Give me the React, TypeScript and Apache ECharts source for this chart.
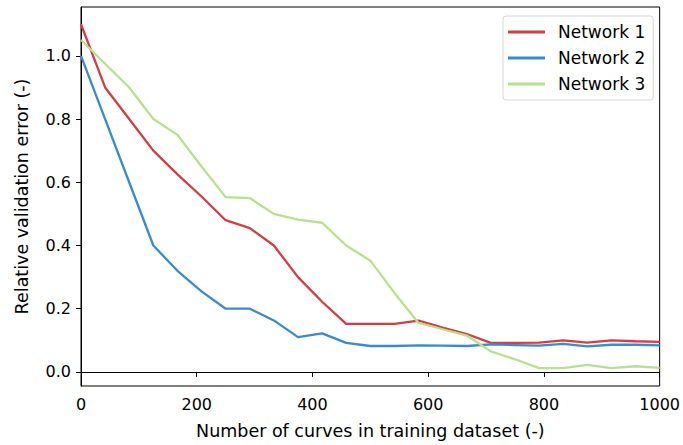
import React, { useEffect, useRef } from "react";
import * as echarts from "echarts";

const xValues = [0, 41.7, 83.3, 125, 166.7, 208.3, 250, 291.7, 333.3, 375, 416.7, 458.3, 500, 541.7, 583.3, 625, 666.7, 708.3, 750, 791.7, 833.3, 875, 916.7, 958.3, 1000];
const network1 = [1.1, 0.9, 0.8, 0.7, 0.625, 0.555, 0.48, 0.455, 0.4, 0.3, 0.222, 0.152, 0.152, 0.152, 0.162, 0.14, 0.12, 0.092, 0.092, 0.093, 0.1, 0.093, 0.1, 0.097, 0.095];
const network2 = [1.0, 0.8, 0.6, 0.4, 0.32, 0.255, 0.2, 0.2, 0.163, 0.11, 0.122, 0.092, 0.082, 0.082, 0.084, 0.083, 0.082, 0.087, 0.085, 0.083, 0.089, 0.081, 0.086, 0.086, 0.084];
const network3 = [1.05, 0.975, 0.9, 0.8, 0.75, 0.65, 0.553, 0.55, 0.5, 0.482, 0.472, 0.4, 0.352, 0.25, 0.155, 0.135, 0.115, 0.065, 0.04, 0.012, 0.012, 0.022, 0.012, 0.018, 0.013];
const seriesNames = ["Network 1", "Network 2", "Network 3"];
const seriesColors = ["#d43d42", "#3b8bcb", "#b7e08f"];
const yTicks = [0, 0.2, 0.4, 0.6, 0.8, 1.0];
const xTicks = [0, 200, 400, 600, 800, 1000];

const FONT = "DejaVu Sans";
const FS = 16;
const FS_TITLE = 17.5;
const FS_LEGEND = 17;

export default function App() {
  const ref = useRef<HTMLDivElement>(null);
  useEffect(() => {
    if (!ref.current) return;
    const chart = echarts.init(ref.current, undefined, { renderer: "svg" });
    const all = [network1, network2, network3];
    chart.setOption({
      animation: false,
      backgroundColor: "#fff",
      textStyle: { fontFamily: FONT },
      grid: {
        left: 81,
        right: 21,
        top: 7,
        bottom: 59,
        show: true,
        borderColor: "#000",
        borderWidth: 1,
        backgroundColor: "transparent",
      },
      legend: {
        left: 503,
        top: 16,
        orient: "vertical",
        data: seriesNames,
        icon: "rect",
        itemWidth: 37,
        itemHeight: 3,
        itemGap: 8,
        padding: [7, 8, 7, 5],
        backgroundColor: "rgba(255,255,255,0.8)",
        borderColor: "#d6d6d6",
        borderWidth: 1,
        borderRadius: 3,
        textStyle: { fontFamily: FONT, fontSize: FS_LEGEND, lineHeight: 18, color: "#000", padding: [0, 0, 0, 8] },
      },
      xAxis: {
        type: "value",
        min: 0,
        max: 1000,
        interval: 200,
        name: "Number of curves in training dataset (-)",
        nameLocation: "middle",
        nameGap: 36,
        nameTextStyle: { fontFamily: FONT, fontSize: FS_TITLE, color: "#000" },
        axisLine: { show: true, lineStyle: { color: "#000", width: 1 } },
        axisTick: { show: true, length: 5, lineStyle: { color: "#000" } },
        axisLabel: { fontFamily: FONT, fontSize: FS, color: "#000", margin: 10, customValues: xTicks, formatter: (v: number) => String(v) },
        splitLine: { show: false },
      },
      yAxis: {
        type: "value",
        min: -0.0445,
        max: 1.1545,
        name: "Relative validation error (-)",
        nameLocation: "middle",
        nameGap: 50,
        nameTextStyle: { fontFamily: FONT, fontSize: FS_TITLE, color: "#000" },
        axisLine: { show: true, lineStyle: { color: "#000", width: 1 } },
        axisTick: { show: true, length: 5, lineStyle: { color: "#000" }, customValues: yTicks },
        axisLabel: {
          fontFamily: FONT,
          fontSize: FS,
          color: "#000",
          margin: 10,
          customValues: yTicks,
          formatter: (v: number) => v.toFixed(1),
        },
        splitLine: { show: false },
      },
      series: seriesNames.map((name, i) => ({
        name,
        type: "line",
        data: xValues.map((x, j) => [x, all[i][j]]),
        symbol: "none",
        showSymbol: false,
        color: seriesColors[i],
        lineStyle: { width: 2.3, color: seriesColors[i] },
      })),
    });
    return () => chart.dispose();
  }, []);
  return <div ref={ref} style={{ position: "fixed", left: 0, top: 0, width: 683, height: 445 }} />;
}
